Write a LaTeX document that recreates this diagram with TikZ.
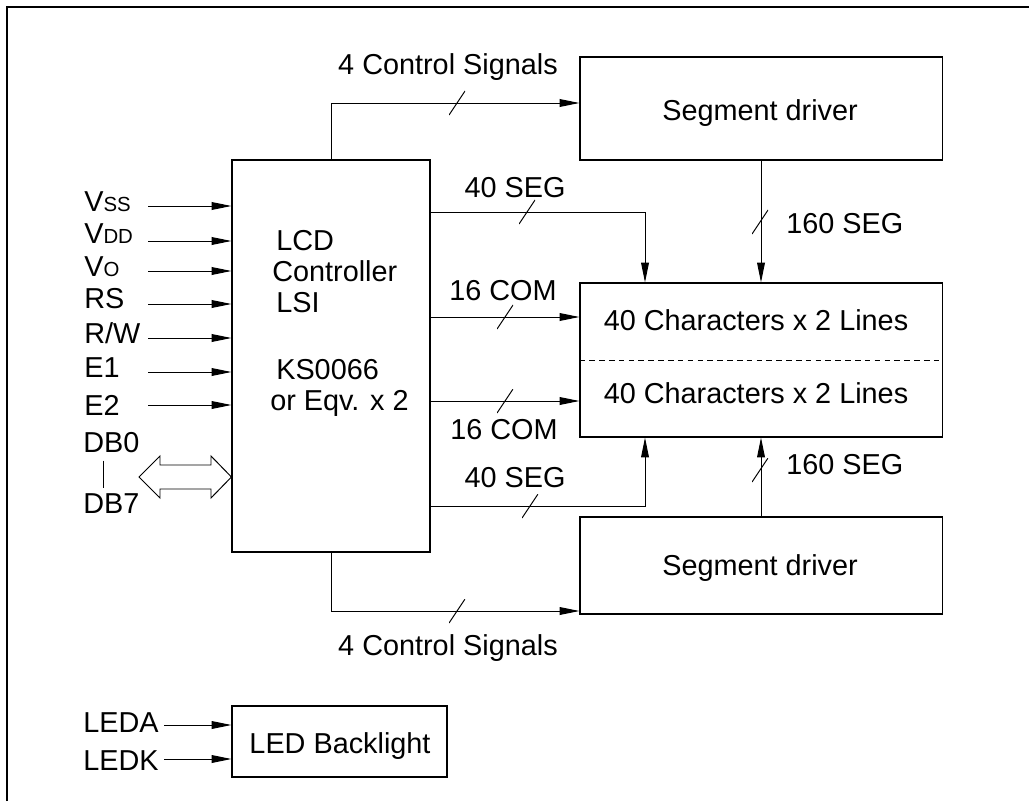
\documentclass[tikz,border=0pt]{standalone}
\usepackage{fontspec}
\setmainfont{Liberation Sans}
\usetikzlibrary{arrows.meta,positioning}
\newcommand{\pinsub}[1]{{\fontsize{14.5}{14.5}\selectfont #1}}
\tikzset{
  blk/.style={draw,line width=0.8pt,inner sep=0pt},
  sig/.style={line width=0.7pt,-{Triangle[length=14pt,width=5.5pt]}},
  lbl/.style={inner sep=0pt},
  slash/.style={inner sep=0pt,minimum width=0.4cm,minimum height=0.6cm,
    path picture={\draw[line width=0.7pt] (path picture bounding box.north east) -- (path picture bounding box.south west);}},
}

\begin{document}
\begin{tikzpicture}[x=0.025cm,y=-0.025cm,line join=miter,
  every node/.append style={font=\fontsize{20.5}{24}\selectfont}]
  \useasboundingbox (0,0) rectangle (1029,801);
  % frame
  \draw[line width=1.4pt] (7,801) -- (7,7) -- (1029,7);
  % blocks
  \node[blk,minimum width=4.95cm,minimum height=9.8cm] (ctrl) at (331,356) {};
  \node[blk,minimum width=9.05cm,minimum height=2.575cm] (segtop) at (761,108.5) {};
  \node[blk,minimum width=9.05cm,minimum height=3.85cm] (disp) at (761,360) {};
  \node[blk,minimum width=9.05cm,minimum height=2.425cm] (segbot) at (761,565.5) {};
  \node[blk,minimum width=5.375cm,minimum height=1.775cm] (led) at (339.5,741.5) {};
  \draw[line width=0.7pt,dash pattern=on 4pt off 3pt] (disp.west) -- (disp.east);
  % texts in the blocks
  \node[lbl,anchor=base west] (lcd) at (276,250) {LCD};
  \node[lbl,anchor=base west] (lcdctl) at (272,281) {Controller};
  \node[lbl,anchor=base west] (lsi) at (276,312) {LSI};
  \node[lbl,anchor=base west] (chip) at (276,379) {KS0066};
  \node[lbl,anchor=base west] (eqv) at (270,410) {or Eqv. x 2};
  \node[lbl,anchor=base] (segtop-t) at (760,120) {Segment driver};
  \node[lbl,anchor=base] (segbot-t) at (760,575) {Segment driver};
  \node[lbl,anchor=base] (line1) at (756,330) {40 Characters x 2 Lines};
  \node[lbl,anchor=base] (line2) at (756,403) {40 Characters x 2 Lines};
  \node[lbl,anchor=base] (led-t) at (340,753) {LED Backlight};
  % input pins
  \foreach \y/\b/\n/\t in {206/211/vss/{V\pinsub{SS}},241/243/vdd/{V\pinsub{DD}},
      271/276/vo/{V\pinsub{O}},304/308/rs/RS,338/343/rw/{R/W},372/377/ea/E1,405/415/eb/E2}{
    \node[lbl,anchor=base west] (\n-l) at (84,\b) {\t};
    \coordinate (\n) at (148,\y);
    \draw[sig] (\n) -- (ctrl.west |- \n);
  }
  % data bus
  \node[lbl,anchor=base west] (db0) at (83,452) {DB0};
  \node[lbl,anchor=base west] (db7) at (83,513) {DB7};
  \draw[line width=0.7pt,shorten <=0.2cm,shorten >=0.12cm] (db0.south -| 103,0) -- (db7.north -| 103,0);
  \draw[line width=0.7pt] (139,477) -- (160,456) -- (160,465) -- (211,465) -- (211,456)
    -- (ctrl.west |- 0,477) -- (211,498) -- (211,489) -- (160,489) -- (160,498) -- cycle;
  % backlight pins
  \foreach \y/\b/\n in {725/732/LEDA,759/770/LEDK}{
    \node[lbl,anchor=base west] (\n-l) at (83,\b) {\n};
    \coordinate (\n) at (164,\y);
    \draw[sig] (\n) -- (led.west |- \n);
  }
  % signals from the controller
  \draw[sig] (ctrl.north) |- (segtop.west |- 0,103);
  \draw[sig] (ctrl.south) |- (segbot.west |- 0,611);
  \draw[sig] (ctrl.east |- 0,212) -| (disp.north -| 645,0);
  \draw[sig] (ctrl.east |- 0,317) -- (disp.west |- 0,317);
  \draw[sig] (ctrl.east |- 0,401) -- (disp.west |- 0,401);
  \draw[sig] (ctrl.east |- 0,506) -| (disp.south -| 645,0);
  \draw[sig] (segtop.south) -- (disp.north);
  \draw[sig] (segbot.north) -- (disp.south);
  % bus width marks
  \foreach \x/\y in {457/103,457/611,527/212,505/317,505/401,530/506,760/222,760/470}
    \node[slash] at (\x,\y) {};
  % bus labels
  \node[lbl,anchor=base] (ctl-a) at (448,75) {4 Control Signals};
  \node[lbl,anchor=base] (ctl-b) at (448,655) {4 Control Signals};
  \node[lbl,anchor=base] (seg-a) at (515,197) {40 SEG};
  \node[lbl,anchor=base] (com-a) at (503,300) {16 COM};
  \node[lbl,anchor=base] (com-b) at (504,439) {16 COM};
  \node[lbl,anchor=base] (seg-b) at (515,487) {40 SEG};
  \node[lbl,anchor=base west] (seg-c) at (786,233) {160 SEG};
  \node[lbl,anchor=base west] (seg-d) at (786,474) {160 SEG};
\end{tikzpicture}
\end{document}
